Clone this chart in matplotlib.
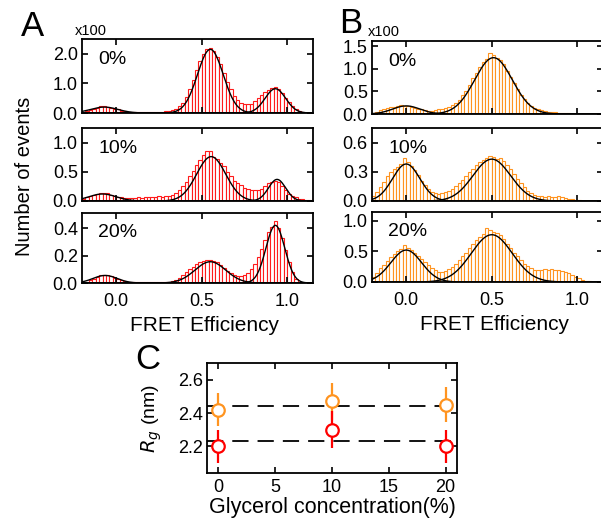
import numpy as np
import matplotlib
matplotlib.use("Agg")
import matplotlib.pyplot as plt

plt.rcParams['font.family'] = ['Liberation Sans', 'DejaVu Sans']

# bin centres for the FRET histograms (width 0.02)
bin_w = 0.02
centers = np.round(np.arange(-0.19, 1.14, bin_w), 3)

# panel A (red), units x100
a0 = [0.03, 0.06, 0.10, 0.14, 0.17, 0.22, 0.22, 0.20, 0.18, 0.15, 0.12, 0.08, 0.06, 0.05, 0.04, 0.04, 0.04,
      0.03, 0.03, 0.04, 0.04, 0.04, 0.05, 0.05, 0.06, 0.07, 0.10, 0.15, 0.22, 0.35, 0.55, 0.80, 1.10, 1.45,
      1.75, 2.00, 2.15, 2.18, 2.10, 1.90, 1.65, 1.35, 1.05, 0.80, 0.58, 0.45, 0.35, 0.32, 0.30, 0.32, 0.40,
      0.50, 0.60, 0.70, 0.78, 0.85, 0.88, 0.82, 0.68, 0.52, 0.36, 0.22, 0.13, 0.07, 0.03, 0.01, 0.0]
a10 = [0.04, 0.06, 0.08, 0.10, 0.12, 0.14, 0.13, 0.13, 0.11, 0.09, 0.07, 0.06, 0.05, 0.05, 0.05, 0.05, 0.06,
       0.05, 0.06, 0.06, 0.07, 0.06, 0.08, 0.07, 0.08, 0.09, 0.10, 0.13, 0.18, 0.25, 0.33, 0.42, 0.52, 0.62,
       0.70, 0.78, 0.85, 0.85, 0.75, 0.72, 0.65, 0.60, 0.50, 0.42, 0.35, 0.30, 0.28, 0.22, 0.20, 0.18, 0.18,
       0.18, 0.20, 0.25, 0.30, 0.33, 0.34, 0.33, 0.25, 0.18, 0.12, 0.09, 0.06, 0.04, 0.03, 0.02, 0.01]
a20 = [0.005, 0.01, 0.02, 0.03, 0.045, 0.055, 0.06, 0.058, 0.05, 0.04, 0.03, 0.02, 0.015, 0.01, 0.008, 0.006,
       0.005, 0.005, 0.004, 0.005, 0.004, 0.005, 0.006, 0.006, 0.008, 0.01, 0.015, 0.025, 0.04, 0.06, 0.08,
       0.10, 0.12, 0.14, 0.15, 0.16, 0.17, 0.165, 0.16, 0.15, 0.13, 0.11, 0.09, 0.07, 0.06, 0.05, 0.05, 0.06,
       0.07, 0.10, 0.14, 0.19, 0.25, 0.31, 0.37, 0.41, 0.45, 0.40, 0.33, 0.24, 0.15, 0.08, 0.03, 0.01, 0.0,
       0.0, 0.0]

# panel B (orange), units x100
b0 = [0.02, 0.05, 0.08, 0.12, 0.13, 0.15, 0.16, 0.18, 0.19, 0.18, 0.18, 0.16, 0.14, 0.12, 0.10, 0.08, 0.07,
      0.06, 0.08, 0.10, 0.12, 0.13, 0.16, 0.20, 0.25, 0.32, 0.42, 0.52, 0.65, 0.80, 0.92, 1.05, 1.15, 1.22,
      1.36, 1.30, 1.25, 1.20, 1.10, 0.95, 0.82, 0.68, 0.55, 0.43, 0.33, 0.25, 0.18, 0.13, 0.10, 0.08, 0.06,
      0.05, 0.05, 0.04, 0.03, 0.03, 0.02, 0.02, 0.01, 0.01, 0.01, 0.0, 0.0, 0.0, 0.0, 0.0, 0.0]
b10 = [0.05, 0.09, 0.14, 0.20, 0.26, 0.30, 0.33, 0.35, 0.38, 0.44, 0.40, 0.36, 0.32, 0.27, 0.21, 0.16, 0.12,
       0.09, 0.08, 0.07, 0.08, 0.09, 0.10, 0.12, 0.15, 0.18, 0.22, 0.26, 0.30, 0.33, 0.37, 0.40, 0.42, 0.44,
       0.46, 0.45, 0.43, 0.44, 0.41, 0.37, 0.33, 0.28, 0.23, 0.18, 0.14, 0.10, 0.08, 0.06, 0.05, 0.05, 0.04,
       0.05, 0.04, 0.04, 0.05, 0.04, 0.03, 0.02, 0.02, 0.01, 0.01, 0.005, 0.0, 0.0, 0.0, 0.0, 0.0]
b20 = [0.08, 0.15, 0.22, 0.28, 0.35, 0.40, 0.45, 0.50, 0.53, 0.60, 0.56, 0.52, 0.47, 0.42, 0.38, 0.32, 0.27,
       0.22, 0.19, 0.17, 0.17, 0.18, 0.21, 0.25, 0.30, 0.36, 0.42, 0.48, 0.55, 0.62, 0.68, 0.73, 0.78, 0.88,
       0.85, 0.82, 0.80, 0.76, 0.70, 0.62, 0.55, 0.48, 0.42, 0.36, 0.30, 0.26, 0.22, 0.20, 0.19, 0.20, 0.21,
       0.20, 0.21, 0.20, 0.19, 0.18, 0.16, 0.14, 0.11, 0.08, 0.06, 0.04, 0.02, 0.01, 0.005, 0.0, 0.0]

# gaussian fit components: (amplitude, centre, sigma)
fit_a0 = [(0.20, -0.07, 0.08), (2.15, 0.55, 0.075), (0.82, 0.93, 0.06)]
fit_a10 = [(0.12, -0.08, 0.08), (0.76, 0.555, 0.085), (0.37, 0.94, 0.05)]
fit_a20 = [(0.055, -0.065, 0.07), (0.155, 0.55, 0.09), (0.42, 0.93, 0.055)]
fit_b0 = [(0.18, 0.0, 0.08), (1.25, 0.51, 0.11)]
fit_b10 = [(0.38, 0.0, 0.08), (0.43, 0.50, 0.11)]
fit_b20 = [(0.52, 0.0, 0.09), (0.77, 0.50, 0.12)]

labels = ['0%', '10%', '20%']

# panel C
glycerol = [0, 10, 20]
rg_orange = [2.42, 2.47, 2.45]
rg_orange_err = [0.10, 0.11, 0.105]
rg_red = [2.20, 2.30, 2.20]
rg_red_err = [0.10, 0.11, 0.10]
rg_mean_orange = 2.445
rg_mean_red = 2.235

RED = '#ff1a1a'
ORANGE = '#ff9420'

fig = plt.figure(figsize=(6.01, 5.23), dpi=100)
W, H = 601.0, 523.0


def px_axes(x0, y0, x1, y1):
    return fig.add_axes([x0 / W, 1 - y1 / H, (x1 - x0) / W, (y1 - y0) / H])


def style(ax, lw=1.3):
    for s in ax.spines.values():
        s.set_linewidth(lw)
    ax.tick_params(direction='in', top=True, right=True, length=4, width=1.2, labelsize=13, pad=3)


xg = np.linspace(-0.2, 1.15, 500)


def hist_panel(ax, vals, fits, color, ylim, yticks, ytl, label, bottom):
    ax.bar(centers, vals, width=bin_w, facecolor='white', edgecolor=color, linewidth=0.8, zorder=1)
    for amp, c, s in fits:
        ax.plot(xg, amp * np.exp(-(xg - c) ** 2 / (2 * s ** 2)), color='black', lw=1.0, zorder=3)
    ax.set_xlim(-0.2, 1.15)
    ax.set_ylim(*ylim)
    ax.set_yticks(yticks)
    ax.set_yticklabels(ytl)
    ax.set_xticks([0, 0.5, 1.0])
    style(ax)
    ax.tick_params(axis='x', pad=7)
    if bottom:
        ax.set_xticklabels(['0.0', '0.5', '1.0'])
        ax.set_xlabel('FRET Efficiency', fontsize=15)
        ax.xaxis.set_label_coords(0.53, -0.47)
    else:
        ax.set_xticklabels([])
    ax.text(0.07, 0.84, label, transform=ax.transAxes, fontsize=14, va='top', ha='left')


# column A
axA1 = px_axes(82, 39, 313, 113)
axA2 = px_axes(82, 128, 313, 201)
axA3 = px_axes(82, 213, 313, 283)
hist_panel(axA1, a0, fit_a0, RED, (0, 2.5), [0, 1, 2], ['0.0', '1.0', '2.0'], labels[0], False)
hist_panel(axA2, a10, fit_a10, RED, (0, 1.25), [0, 0.5, 1.0], ['0.0', '0.5', '1.0'], labels[1], False)
hist_panel(axA3, a20, fit_a20, RED, (0, 0.51), [0, 0.2, 0.4], ['0.0', '0.2', '0.4'], labels[2], True)

# column B
axB1 = px_axes(372, 41, 603, 114)
axB2 = px_axes(372, 128, 603, 201)
axB3 = px_axes(372, 212, 603, 282)
hist_panel(axB1, b0, fit_b0, ORANGE, (0, 1.62), [0, 0.5, 1.0, 1.5], ['0.0', '0.5', '1.0', '1.5'], labels[0], False)
hist_panel(axB2, b10, fit_b10, ORANGE, (0, 0.75), [0, 0.3, 0.6], ['0.0', '0.3', '0.6'], labels[1], False)
hist_panel(axB3, b20, fit_b20, ORANGE, (0, 1.14), [0, 0.5, 1.0], ['0.0', '0.5', '1.0'], labels[2], True)

fig.text(25 / W, 1 - 176 / H, 'Number of events', rotation=90, fontsize=14.5, ha='center', va='center')
fig.text(75 / W, 1 - 35 / H, 'x100', fontsize=10.5, ha='left', va='baseline')
fig.text(368 / W, 1 - 36 / H, 'x100', fontsize=10.5, ha='left', va='baseline')
fig.text(21 / W, 1 - 36 / H, 'A', fontsize=25, ha='left', va='baseline')
fig.text(339 / W, 1 - 33 / H, 'B', fontsize=25, ha='left', va='baseline')
fig.text(135 / W, 1 - 369 / H, 'C', fontsize=25, ha='left', va='baseline')

# panel C
axC = px_axes(207, 363, 457, 473)
axC.axhline(rg_mean_orange, color='black', lw=1.3, dashes=(9, 5), zorder=1)
axC.axhline(rg_mean_red, color='black', lw=1.3, dashes=(9, 5), zorder=1)
axC.errorbar(glycerol, rg_orange, yerr=rg_orange_err, fmt='o', color=ORANGE, mfc='white', mec=ORANGE,
             ms=9, mew=1.6, elinewidth=1.6, capsize=0, zorder=3)
axC.errorbar(glycerol, rg_red, yerr=rg_red_err, fmt='o', color='#ff0000', mfc='white', mec='#ff0000',
             ms=9, mew=1.6, elinewidth=1.6, capsize=0, zorder=4)
axC.set_xlim(-1, 21)
axC.set_ylim(2.04, 2.7)
axC.set_xticks([0, 5, 10, 15, 20])
axC.set_yticks([2.2, 2.4, 2.6])
axC.set_yticklabels(['2.2', '2.4', '2.6'])
style(axC)
axC.tick_params(axis='x', pad=4)
axC.set_xlabel('Glycerol concentration(%)', fontsize=15.5, labelpad=1)
axC.set_ylabel('$R_g$ (nm)', fontsize=14, labelpad=10)

fig.savefig('out.png', dpi=100)
